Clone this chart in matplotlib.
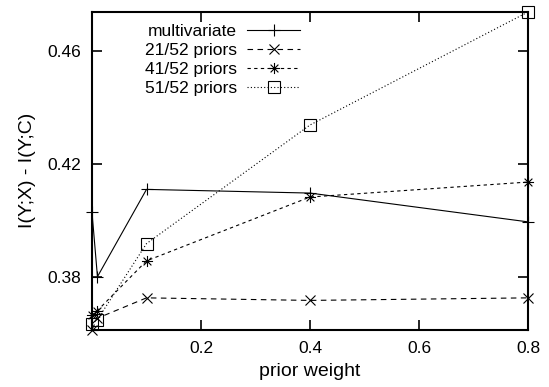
import matplotlib
matplotlib.use("Agg")
import matplotlib.pyplot as plt
from matplotlib.path import Path

plt.rcParams['font.family'] = ['Liberation Sans', 'DejaVu Sans']

weights = [0.0, 0.01, 0.1, 0.4, 0.8]
multivariate = [0.4030, 0.3802, 0.4111, 0.4098, 0.3996]
priors_21 = [0.3615, 0.3655, 0.3727, 0.3718, 0.3727]
priors_41 = [0.3665, 0.3682, 0.3858, 0.4084, 0.4137]
priors_51 = [0.3635, 0.3650, 0.3919, 0.4339, 0.4739]
labels = ["multivariate", "21/52 priors", "41/52 priors", "51/52 priors"]
xticks = [0.2, 0.4, 0.6, 0.8]
yticks = [0.38, 0.42, 0.46]

star = Path([(-1, 0), (1, 0), (0, -1), (0, 1), (-0.7, -0.7), (0.7, 0.7), (-0.7, 0.7), (0.7, -0.7)],
            [Path.MOVETO, Path.LINETO] * 4)

fig = plt.figure(figsize=(5.49, 3.87), dpi=100)
ax = fig.add_axes([92/549, 1-329.5/387, (528-92)/549, (329.5-12)/387])

lw = 0.8
ms = 8
common = dict(color='black', lw=lw, mew=0.8, clip_on=False)
ax.plot(weights, multivariate, ls='-', marker='+', ms=ms, label=labels[0], **common)
ax.plot(weights, priors_21, ls=(0, (5, 4)), marker='x', ms=ms*0.9, label=labels[1], **common)
ax.plot(weights, priors_41, ls=(0, (3, 3)), marker=star, ms=ms, label=labels[2], **common)
ax.plot(weights, priors_51, ls=(0, (1, 2)), marker='s', ms=ms, mfc='none', label=labels[3], **common)

ax.set_xlim(0, 0.8)
ax.set_ylim(min(priors_21), max(priors_51))
ax.set_xticks(xticks)
ax.set_xticklabels([f"{v:.1f}" for v in xticks])
ax.set_yticks(yticks)
ax.set_yticklabels([f"{v:.2f}" for v in yticks])
ax.tick_params(direction='in', length=7, width=1.2, top=True, right=True, labelsize=12.5)
ax.tick_params(axis='x', pad=8.5)
ax.tick_params(axis='y', pad=8)
for s in ax.spines.values():
    s.set_linewidth(1.5)
ax.set_xlabel("prior weight", fontsize=14, labelpad=5)
ax.set_ylabel("I(Y;X) - I(Y;C)", fontsize=14, labelpad=8)

leg = ax.legend(loc='upper right', bbox_to_anchor=(300/549, 1-24/387), bbox_transform=fig.transFigure,
                frameon=False, markerfirst=False, handlelength=3.05, handletextpad=0.57,
                labelspacing=0.22, borderpad=0, borderaxespad=0, fontsize=12.5)

fig.savefig("out.png", dpi=100)
